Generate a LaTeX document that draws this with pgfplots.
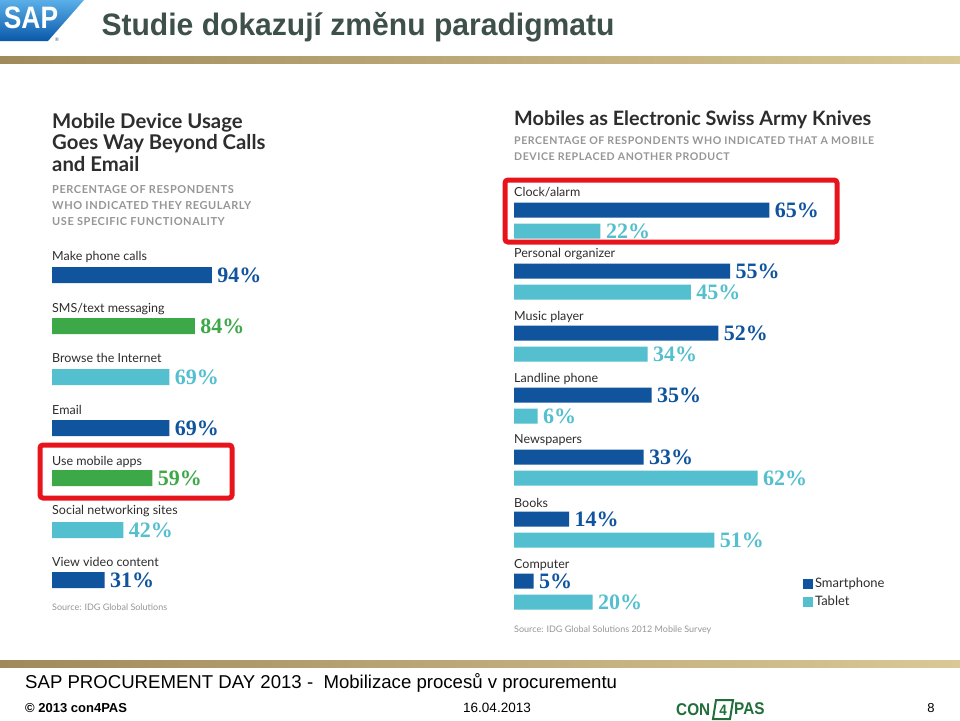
\documentclass[border=0pt]{standalone}
\usepackage{fontspec}
\setmainfont{Lato}
\newfontfamily\numfont{Liberation Serif}
\newfontfamily\narrowfont{Liberation Sans}[FakeStretch=0.9]
\newfontfamily\titlefont{Liberation Sans}[FakeStretch=0.97]
\newfontfamily\logofont{Liberation Sans}[FakeStretch=0.85]
\newfontfamily\arialfont{Liberation Sans}
\newfontfamily\capsfont{Lato}[LetterSpace=5]
\usepackage{pgfplots}
\pgfplotsset{compat=1.18}

\definecolor{smart}{RGB}{16,84,158}
\definecolor{tab}{RGB}{84,191,206}
\definecolor{grn}{RGB}{61,168,72}
\definecolor{labgray}{RGB}{45,45,45}
\definecolor{subgray}{RGB}{150,150,150}
\definecolor{titlegray}{RGB}{62,80,74}
\definecolor{goldA}{RGB}{160,138,92}
\definecolor{goldB}{RGB}{218,200,150}
\definecolor{logogreen}{RGB}{32,110,58}
\definecolor{hilite}{RGB}{232,20,28}

\newcommand\labfont{\fontsize{12.5}{14}\selectfont}
\newcommand\valfont{\numfont\bfseries\fontsize{22}{22}\selectfont}

\pgfplotsset{
  barbase/.style={
    scale only axis, axis lines=none, clip=false,
    xmin=0, xmax=100, y dir=reverse,
    xbar, point meta=x,
    nodes near coords={\pgfmathprintnumber[assume math mode=true]{\pgfplotspointmeta}\%},
    every node near coord/.append style={font=\valfont, anchor=west, xshift=2pt},
  },
}

\begin{document}
\begin{tikzpicture}[x=1pt,y=1pt]
\useasboundingbox (0,0) rectangle (960,-720);
\fill[white] (0,0) rectangle (960,-720);

% header
\shade[top color={rgb,255:red,90;green,175;blue,232}, bottom color={rgb,255:red,10;green,88;blue,170}]
  (0,0) -- (84,0) -- (48,-41) -- (0,-41) -- cycle;
\node[text=white, font=\logofont\bfseries\fontsize{31}{31}\selectfont, inner sep=0pt] at (31,-18) {SAP};
\node[text={rgb,255:red,60;green,90;blue,130}, font=\fontsize{5}{5}\selectfont, inner sep=0pt] at (57,-40) {®};
\node[anchor=west, text=titlegray, font=\titlefont\bfseries\fontsize{31}{31}\selectfont] at (98,-27) {Studie dokazují změnu paradigmatu};
\shade[left color=goldA, right color=goldB] (0,-56) rectangle (960,-63);

% left chart titles
\node[anchor=north west, align=left, text=labgray, font=\bfseries\fontsize{20.3}{21.5}\selectfont, inner sep=0pt] at (52,-113)
  {Mobile Device Usage\\Goes Way Beyond Calls\\and Email};
\node[anchor=north west, align=left, text=subgray, font=\capsfont\bfseries\fontsize{11}{16}\selectfont, inner sep=0pt] at (52,-185)
  {PERCENTAGE OF RESPONDENTS\\WHO INDICATED THEY REGULARLY\\USE SPECIFIC FUNCTIONALITY};

% right chart titles
\node[anchor=north west, text=labgray, font=\bfseries\fontsize{19.8}{21}\selectfont, inner sep=0pt] at (514,-111)
  {Mobiles as Electronic Swiss Army Knives};
\node[anchor=north west, align=left, text=subgray, font=\capsfont\bfseries\fontsize{10.6}{16}\selectfont, inner sep=0pt] at (514,-137)
  {PERCENTAGE OF RESPONDENTS WHO INDICATED THAT A MOBILE\\DEVICE REPLACED ANOTHER PRODUCT};

% left chart
\begin{axis}[barbase, at={(52pt,-240pt)}, anchor=north west,
  width=170pt, height=360pt, ymin=240, ymax=600, bar width=16]
\addplot[fill=smart, draw=none, bar shift=0pt,
  every node near coord/.append style={text=smart}]
  coordinates {(94,275) (69,428) (31,580)};
\addplot[fill=grn, draw=none, bar shift=0pt,
  every node near coord/.append style={text=grn}]
  coordinates {(84,326) (59,478)};
\addplot[fill=tab, draw=none, bar shift=0pt,
  every node near coord/.append style={text=tab}]
  coordinates {(69,377) (42,530)};
\node[anchor=west, inner sep=0pt, text=labgray, font=\labfont] at (axis cs:0,257) {Make phone calls};
\node[anchor=west, inner sep=0pt, text=labgray, font=\labfont] at (axis cs:0,309) {SMS/text messaging};
\node[anchor=west, inner sep=0pt, text=labgray, font=\labfont] at (axis cs:0,358) {Browse the Internet};
\node[anchor=west, inner sep=0pt, text=labgray, font=\labfont] at (axis cs:0,410) {Email};
\node[anchor=west, inner sep=0pt, text=labgray, font=\labfont] at (axis cs:0,462) {Use mobile apps};
\node[anchor=west, inner sep=0pt, text=labgray, font=\labfont] at (axis cs:0,511) {Social networking sites};
\node[anchor=west, inner sep=0pt, text=labgray, font=\labfont] at (axis cs:0,562) {View video content};
\node[anchor=west, inner sep=0pt, text=subgray, font=\fontsize{9}{10}\selectfont] at (axis cs:0,607) {Source: IDG Global Solutions};
\end{axis}

% right chart
\begin{axis}[barbase, at={(514pt,-180pt)}, anchor=north west,
  width=393pt, height=440pt, ymin=180, ymax=620, bar width=15,
  legend image code/.code={\fill[#1] (0pt,-5pt) rectangle (10pt,5pt);},
  legend style={draw=none, fill=none, at={(0.735,0.1)}, anchor=north west,
    font=\fontsize{13}{14}\selectfont, text=labgray, row sep=3pt, inner sep=0pt},
  legend cell align=left]
\addplot[fill=smart, draw=none, bar shift=0pt,
  every node near coord/.append style={text=smart}]
  coordinates {(65,210) (55,271) (52,333) (35,395) (33,457) (14,519) (5,581)};
\addplot[fill=tab, draw=none, bar shift=0pt,
  every node near coord/.append style={text=tab}]
  coordinates {(22,231) (45,292) (34,354) (6,416) (62,478) (51,540) (20,602)};
\legend{Smartphone, Tablet}
\node[anchor=west, inner sep=0pt, text=labgray, font=\labfont] at (axis cs:0,192) {Clock/alarm};
\node[anchor=west, inner sep=0pt, text=labgray, font=\labfont] at (axis cs:0,254) {Personal organizer};
\node[anchor=west, inner sep=0pt, text=labgray, font=\labfont] at (axis cs:0,317) {Music player};
\node[anchor=west, inner sep=0pt, text=labgray, font=\labfont] at (axis cs:0,379) {Landline phone};
\node[anchor=west, inner sep=0pt, text=labgray, font=\labfont] at (axis cs:0,440) {Newspapers};
\node[anchor=west, inner sep=0pt, text=labgray, font=\labfont] at (axis cs:0,503) {Books};
\node[anchor=west, inner sep=0pt, text=labgray, font=\labfont] at (axis cs:0,565) {Computer};
\node[anchor=west, inner sep=0pt, text=subgray, font=\fontsize{9}{10}\selectfont] at (axis cs:0,630) {Source: IDG Global Solutions 2012 Mobile Survey};
\end{axis}

% highlight boxes
\draw[hilite, line width=5pt, rounded corners=3pt] (40,-445) rectangle (232,-498);
\draw[hilite, line width=5pt, rounded corners=3pt] (505,-180) rectangle (837,-242);

% footer
\shade[left color=goldA, right color=goldB] (0,-660) rectangle (960,-667);
\node[anchor=west, font=\arialfont\fontsize{18.6}{20}\selectfont, inner sep=0pt] at (25,-683)
  {SAP PROCUREMENT DAY 2013 -\ \ Mobilizace procesů v procurementu};
\node[anchor=west, font=\arialfont\bfseries\fontsize{13}{14}\selectfont, inner sep=0pt] at (25,-708) {© 2013 con4PAS};
\node[font=\arialfont\fontsize{13.5}{14}\selectfont, inner sep=0pt] at (497,-708) {16.04.2013};
\node[font=\arialfont\fontsize{13}{14}\selectfont, inner sep=0pt] at (931,-708) {8};
\node[anchor=west, text=logogreen, font=\narrowfont\bfseries\fontsize{17}{17}\selectfont, inner sep=0pt] at (676,-710) {CON};
\draw[logogreen, line width=2pt] (716,-700) -- (733,-700) -- (730,-719) -- (713,-719) -- cycle;
\node[text=logogreen, font=\narrowfont\bfseries\fontsize{15}{15}\selectfont, inner sep=0pt] at (723,-710) {4};
\node[anchor=west, text=logogreen, font=\narrowfont\bfseries\fontsize{17}{17}\selectfont, inner sep=0pt] at (734,-709) {PAS};
\end{tikzpicture}
\end{document}
